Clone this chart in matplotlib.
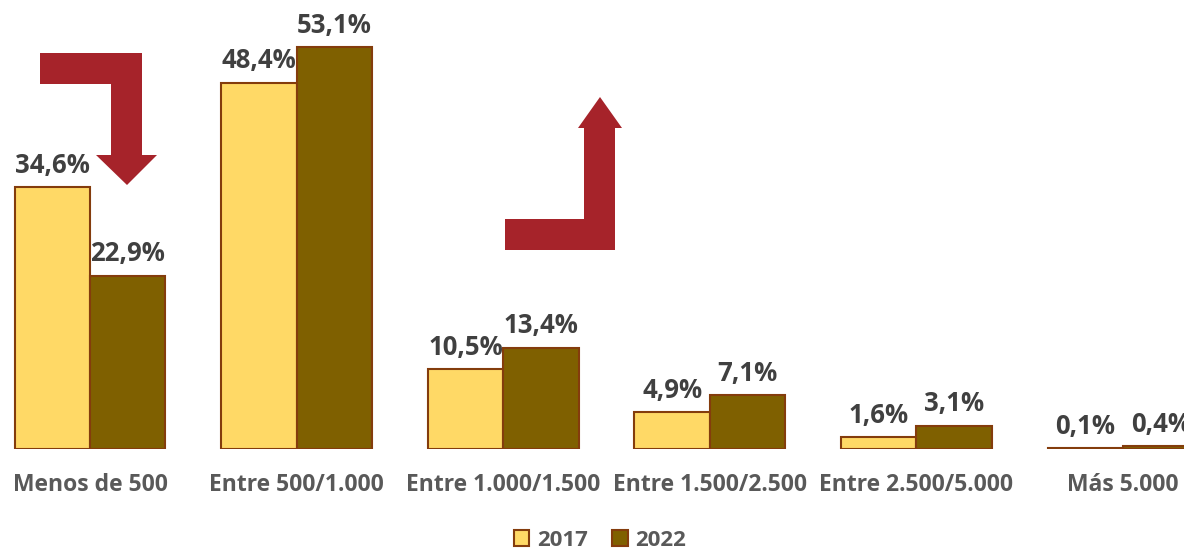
import matplotlib
matplotlib.use("Agg")
import matplotlib.pyplot as plt
import numpy as np
from matplotlib.patches import Polygon
from matplotlib.patches import Patch

categories = ["Menos de 500", "Entre 500/1.000", "Entre 1.000/1.500",
              "Entre 1.500/2.500", "Entre 2.500/5.000", "Más 5.000"]
values_2017 = [34.6, 48.4, 10.5, 4.9, 1.6, 0.1]
values_2022 = [22.9, 53.1, 13.4, 7.1, 3.1, 0.4]
series_names = ["2017", "2022"]

color_2017 = "#FFD966"
color_2022 = "#7F6000"
edge_color = "#843C0C"
arrow_color = "#A6232A"
label_color = "#404040"
tick_color = "#595959"

plt.rcParams["font.family"] = ["Open Sans", "DejaVu Sans"]

W, H = 1184, 552
fig = plt.figure(figsize=(W / 100, H / 100), dpi=100)

# plot area spans a little wider than the canvas
left_px, right_px = -13.3, 1226.3
bottom_px, top_px = 449, 0
ax = fig.add_axes([left_px / W, 1 - bottom_px / H,
                   (right_px - left_px) / W, (bottom_px - top_px) / H])

x = np.arange(len(categories))
bw = 0.365
b1 = ax.bar(x - bw / 2, values_2017, bw, color=color_2017, edgecolor=edge_color,
            linewidth=1.5, label=series_names[0])
b2 = ax.bar(x + bw / 2, values_2022, bw, color=color_2022, edgecolor=edge_color,
            linewidth=1.5, label=series_names[1])

for bars, vals in ((b1, values_2017), (b2, values_2022)):
    for rect, v in zip(bars, vals):
        ax.annotate(f"{v:.1f}%".replace(".", ","),
                    (rect.get_x() + rect.get_width() / 2, v),
                    xytext=(0, 6), textcoords="offset points",
                    ha="center", va="bottom", fontsize=18.5, fontweight="bold",
                    color=label_color)

ax.set_xlim(-0.5, len(categories) - 0.5)
ax.set_ylim(0, 59.3)
ax.set_xticks(x)
ax.set_xticklabels(categories, fontsize=16.5, fontweight="bold", color=tick_color)
ax.tick_params(axis="x", length=0, pad=17)
ax.set_yticks([])
for s in ax.spines.values():
    s.set_visible(False)

# turning arrows in pixel coordinates
def px(points):
    return [(px_x / W, 1 - px_y / H) for px_x, px_y in points]

down_arrow = [(40, 53), (142, 53), (142, 155), (157, 155), (127, 185),
              (96, 155), (111, 155), (111, 84), (40, 84)]
up_arrow = [(505, 250), (615, 250), (615, 128), (622, 128), (600, 97),
            (578, 128), (584, 128), (584, 219), (505, 219)]
for shape in (down_arrow, up_arrow):
    fig.patches.append(Polygon(px(shape), closed=True, facecolor=arrow_color,
                               edgecolor="none", transform=fig.transFigure))

handles = [Patch(facecolor=color_2017, edgecolor=edge_color, linewidth=1.5),
           Patch(facecolor=color_2022, edgecolor=edge_color, linewidth=1.5)]
leg = fig.legend(handles, series_names, loc="center", bbox_to_anchor=(600 / W, 1 - 540 / H),
                 ncol=2, frameon=False, handlelength=0.7, handleheight=0.7,
                 handletextpad=0.35, columnspacing=1.1,
                 prop={"size": 16, "weight": "bold"})
for t in leg.get_texts():
    t.set_color(tick_color)

fig.savefig("out.png", dpi=100)
